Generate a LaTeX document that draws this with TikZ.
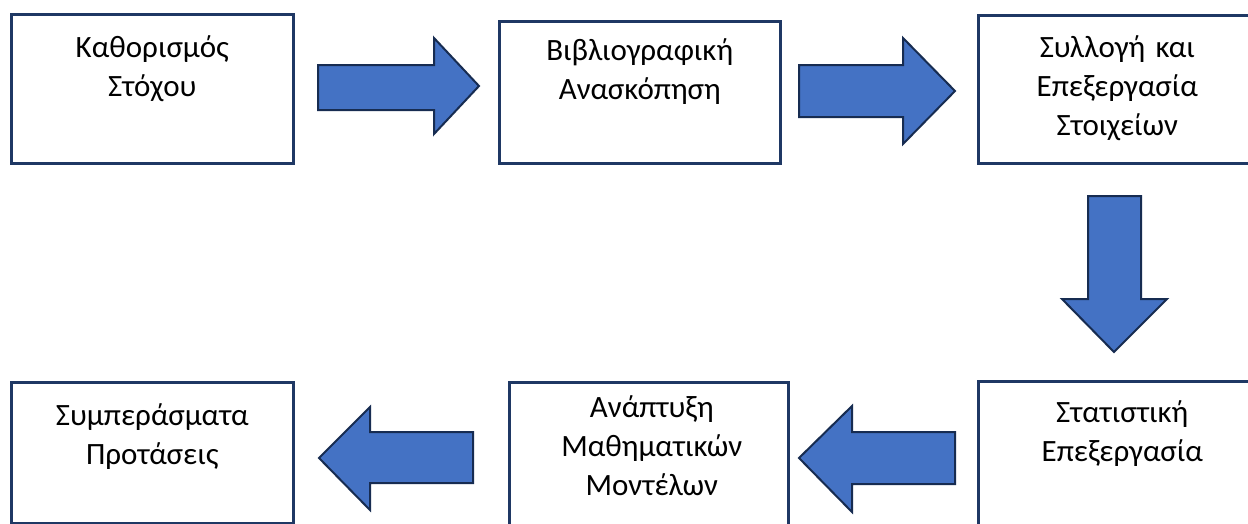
\documentclass[tikz,border=0pt]{standalone}
\usepackage{fontspec}
\setmainfont{Carlito}
\definecolor{boxline}{HTML}{1F3864}
\definecolor{arrowfill}{HTML}{4472C4}
\definecolor{arrowline}{HTML}{172C51}
\begin{document}
\begin{tikzpicture}[x=1pt,y=-1pt,
  box/.style={draw=boxline, line width=2.6pt, fill=white, rectangle, anchor=north west, inner sep=0pt},
  lbl/.style={font=\fontsize{31}{39}\selectfont, text width=270pt, align=center, inner sep=0pt, anchor=base},
  barrow/.style={fill=arrowfill, draw=arrowline, line width=2pt, line join=miter}]
\useasboundingbox (0,0) rectangle (1248,523);
\clip (0,0) rectangle (1248,523);
\fill[white] (0,0) rectangle (1248,523);
% boxes
\node[box, minimum width=282pt, minimum height=149pt] (b1) at (10,13) {};
\node[box, minimum width=281pt, minimum height=142pt] (b2) at (498,20) {};
\node[box, minimum width=282pt, minimum height=148pt] (b3) at (977,14) {};
\node[box, minimum width=282pt, minimum height=160pt] (b4) at (977,380) {};
\node[box, minimum width=279pt, minimum height=160pt] (b5) at (508,381) {};
\node[box, minimum width=282pt, minimum height=141pt] (b6) at (10,381) {};
% texts
\node[lbl] (t1) at ([yshift=-44pt]b1.north) {Καθορισμός\\Στόχου};
\node[lbl] (t2) at ([yshift=-40pt]b2.north) {Βιβλιογραφική\\Ανασκόπηση};
\node[lbl] (t3) at ([yshift=-43pt,xshift=-2pt]b3.north) {Συλλογή και\\Επεξεργασία\\Στοιχείων};
\node[lbl] (t4) at ([yshift=-42pt,xshift=3pt]b4.north) {Στατιστική\\Επεξεργασία};
\node[lbl] (t5) at ([yshift=-36pt,xshift=3pt]b5.north) {Ανάπτυξη\\Μαθηματικών\\Μοντέλων};
\node[lbl] (t6) at ([yshift=-44pt]b6.north) {Συμπεράσματα\hspace*{18pt}\\Προτάσεις};
% block arrows
\draw[barrow] (318,65) -- (434,65) -- (434,38) -- (479,86) -- (434,134) -- (434,110) -- (318,110) -- cycle;
\draw[barrow] (799,65) -- (903,65) -- (903,38) -- (955,91) -- (903,144) -- (903,117) -- (799,117) -- cycle;
\draw[barrow] (1088,196) -- (1141,196) -- (1141,299) -- (1167,299) -- (1114,352) -- (1062,299) -- (1088,299) -- cycle;
\draw[barrow] (955,432) -- (852,432) -- (852,406) -- (799,458) -- (852,512) -- (852,484) -- (955,484) -- cycle;
\draw[barrow] (473,432) -- (370,432) -- (370,407) -- (319,458) -- (370,510) -- (370,483) -- (473,483) -- cycle;
\end{tikzpicture}
\end{document}
